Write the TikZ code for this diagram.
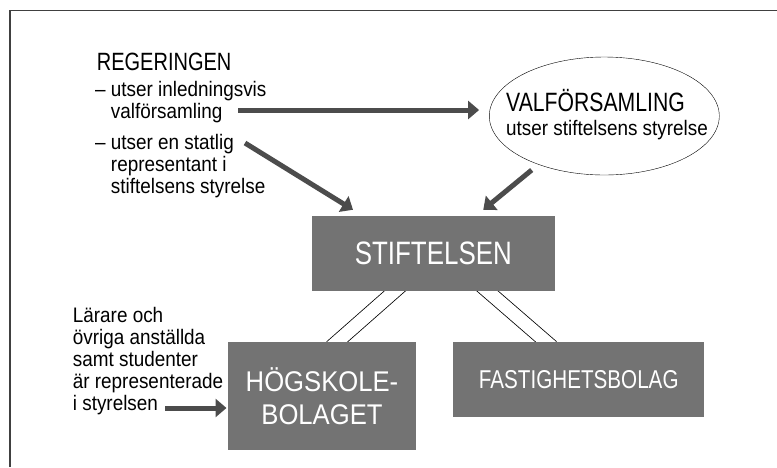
\documentclass[tikz,border=0pt]{standalone}
\usepackage{fontspec}
\setmainfont{Liberation Sans}[FakeStretch=0.9]
\newfontfamily\capsfont{Liberation Sans}[FakeStretch=0.8]
\usetikzlibrary{arrows.meta, shapes.geometric, positioning, backgrounds}

\definecolor{boxGray}{gray}{0.45}
\definecolor{arrowGray}{gray}{0.3}
\definecolor{frameGray}{gray}{0.25}

\tikzstyle{orgBox} = [fill=boxGray, text=white, inner sep=0, align=center]
\tikzstyle{fatArrow} = [line width=5pt, arrowGray, -{Triangle[width=18pt, length=11pt]}]
\tikzstyle{dblLink} = [line width=0.8pt, double=white, double distance=13pt,
   shorten <=-8pt, shorten >=-8pt]
\tikzstyle{noteText} = [inner sep=0, anchor=base west, align=left,
   font=\fontsize{21}{22}\selectfont]

\begin{document}
\begin{tikzpicture}[x=1pt, y=-1pt]
  \useasboundingbox (0,0) rectangle (777,467);
  \draw[frameGray, line width=1.5pt] (10,467) -- (10,10.5) -- (777,10.5);

  % the government and its two tasks (base = last line)
  \node[noteText, font=\capsfont\fontsize{25}{26}\selectfont] (reg) at (96.7,70) {REGERINGEN};
  \node[noteText] (regA) at (95,118) {– utser inledningsvis\\\hphantom{– }valförsamling};
  \node[noteText] (regB) at (95,193.3) {– utser en statlig\\\hphantom{– }representant i\\\hphantom{– }stiftelsens styrelse};

  % electoral assembly
  \node[draw, thin, ellipse, minimum width=230pt, minimum height=118pt] (valf) at (604.3,116) {};
  \node[noteText, font=\fontsize{21}{23.3}\selectfont] (valfText) at (506,135)
     {{\capsfont\fontsize{26.5}{27}\selectfont VALFÖRSAMLING}\\utser stiftelsens styrelse};

  % foundation and the two companies
  \node[orgBox, minimum width=243.3pt, minimum height=74.7pt,
        font=\capsfont\fontsize{32.4}{34}\selectfont] (stift) at (433.3,253.3) {STIFTELSEN};
  \node[orgBox, minimum width=188pt, minimum height=108.3pt,
        font=\fontsize{28.5}{33.3}\selectfont] (hogsk) at (322,396) {HÖGSKOLE-\\BOLAGET};
  \node[orgBox, minimum width=251.3pt, minimum height=75.3pt,
        font=\capsfont\fontsize{25.8}{27}\selectfont,
        right=36.7pt of hogsk.north east, anchor=north west] (fast) {FASTIGHETSBOLAG};

  % links from the foundation (behind the boxes)
  \begin{scope}[on background layer]
    \draw[dblLink] ([xshift=-38.3pt]stift.south) -- ([xshift=15.3pt]hogsk.north);
    \draw[dblLink] ([xshift=54pt]stift.south) -- ([xshift=-32.8pt]fast.north);
  \end{scope}

  % arrows
  \coordinate (regA_end) at (238.3,110);
  \draw[fatArrow, shorten >=10pt] (regA_end) -- (valf.west |- regA_end);
  \coordinate (regB_end) at (245,143);
  \draw[fatArrow, shorten >=11.4pt] (regB_end) -- ([xshift=-70.6pt]stift.north);
  \coordinate (valf_out) at (531.7,170);
  \draw[fatArrow, shorten >=9.4pt] (valf_out) -- ([xshift=42.7pt]stift.north);

  % staff and students
  \node[noteText] (staff) at (72.7,410) {Lärare och\\övriga anställda\\samt studenter\\är representerade\\i styrelsen};
  \coordinate (staff_end) at (165,408);
  \draw[fatArrow, shorten >=1.3pt] (staff_end) -- ([yshift=-12pt]hogsk.west);
\end{tikzpicture}
\end{document}
